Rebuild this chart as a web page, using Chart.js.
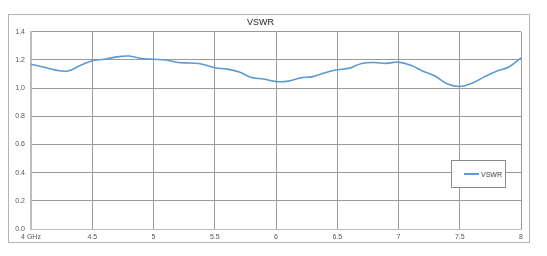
<!DOCTYPE html>
<html>
<head>
<meta charset="utf-8">
<script src="https://cdn.jsdelivr.net/npm/chart.js@4/dist/chart.umd.min.js"></script>
<style>
  html, body { margin: 0; padding: 0; background: #fff; }
  #wrap { position: relative; width: 547px; height: 256px; }
  #legendBox {
    position: absolute; left: 451px; top: 160px; width: 53px; height: 26px;
    border: 1px solid #8c8c8c; background: #fff;
    font: 7px "Liberation Sans", Arial, sans-serif; color: #444;
    display: flex; align-items: center;
  }
  #legendBox .swatch { display: inline-block; width: 15px; height: 2px; background: #5b9bd5; margin-left: 12px; margin-right: 2px; }
</style>
</head>
<body>
<div id="wrap">
  <canvas id="vswrChart" width="547" height="256"></canvas>
  <div id="legendBox"><span class="swatch"></span><span id="legendText"></span></div>
</div>
<script>
// Tần số (GHz) và giá trị VSWR
const freqs = [4.0, 4.1, 4.2, 4.3, 4.4, 4.5, 4.6, 4.7, 4.8, 4.9,
               5.0, 5.1, 5.2, 5.3, 5.4, 5.5, 5.6, 5.7, 5.8, 5.9,
               6.0, 6.1, 6.2, 6.3, 6.4, 6.5, 6.6, 6.7, 6.8, 6.9,
               7.0, 7.1, 7.2, 7.3, 7.4, 7.5, 7.6, 7.7, 7.8, 7.9, 8.0];
const vswr = [1.17, 1.15, 1.128, 1.122, 1.16, 1.195, 1.205, 1.222, 1.228, 1.21,
              1.205, 1.20, 1.182, 1.178, 1.17, 1.145, 1.135, 1.115, 1.075, 1.065,
              1.047, 1.05, 1.073, 1.082, 1.11, 1.13, 1.142, 1.175, 1.182, 1.176,
              1.185, 1.163, 1.12, 1.085, 1.03, 1.012, 1.035, 1.08, 1.12, 1.15, 1.215];
const xTicks = [4, 4.5, 5, 5.5, 6, 6.5, 7, 7.5, 8];
const xTickLabels = ['4 GHz', '4.5', '5', '5.5', '6', '6.5', '7', '7.5', '8'];
const yTicks = [0, 0.2, 0.4, 0.6, 0.8, 1.0, 1.2, 1.4];
const seriesName = 'VSWR';

document.getElementById('legendText').textContent = seriesName;

// Khung viền ngoài của biểu đồ
const frame = {
    id: 'frame',
    beforeDraw(chart) {
        const c = chart.ctx;
        c.save();
        c.fillStyle = '#fff';
        c.fillRect(0, 0, chart.width, chart.height);
        c.strokeStyle = '#b4b4b4';
        c.lineWidth = 1;
        c.strokeRect(8.5, 14.5, 521, 228);
        c.restore();
    }
};

const ctx = document.getElementById('vswrChart').getContext('2d');
const tickFont = { family: '"Liberation Sans", Arial, sans-serif', size: 7 };

new Chart(ctx, {
    type: 'line',
    data: {
        datasets: [{
            label: seriesName,
            data: freqs.map((f, i) => ({ x: f, y: vswr[i] })),
            borderColor: '#5b9bd5',
            borderWidth: 1.6,
            pointRadius: 0,
            tension: 0.4,
            fill: false
        }]
    },
    options: {
        responsive: false,
        animation: false,
        layout: { padding: { left: 0, right: 26, top: 0, bottom: 0 } },
        plugins: {
            legend: { display: false },
            tooltip: { enabled: false },
            title: {
                display: true,
                text: seriesName,
                color: '#222',
                font: { family: '"Liberation Sans", Arial, sans-serif', size: 9, weight: 'normal', lineHeight: 1.2 },
                padding: { top: 17, bottom: 4 }
            }
        },
        scales: {
            x: {
                type: 'linear',
                min: 4, max: 8,
                afterBuildTicks: axis => { axis.ticks = xTicks.map(v => ({ value: v })); },
                afterFit: axis => { axis.height = 27; },
                ticks: {
                    padding: 4, color: '#555', font: tickFont, maxRotation: 0,
                    callback: (v) => xTickLabels[xTicks.indexOf(v)]
                },
                grid: { color: '#9a9a9a', lineWidth: 1, drawTicks: false },
                border: { color: '#bdbdbd', width: 1 }
            },
            y: {
                min: 0, max: 1.4,
                afterBuildTicks: axis => { axis.ticks = yTicks.map(v => ({ value: v })); },
                afterFit: axis => { axis.width = 31; },
                ticks: {
                    padding: 6, color: '#555', font: tickFont,
                    callback: v => v.toFixed(1)
                },
                grid: { color: '#9a9a9a', lineWidth: 1, drawTicks: false },
                border: { color: '#bdbdbd', width: 2 }
            }
        }
    },
    plugins: [frame]
});
</script>
</body>
</html>
